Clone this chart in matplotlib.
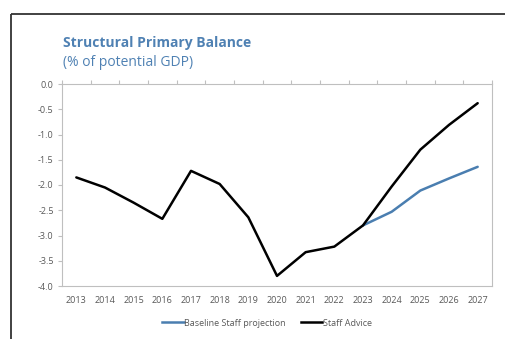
import matplotlib
matplotlib.use("Agg")
import matplotlib.pyplot as plt
from matplotlib.lines import Line2D
import numpy as np

years = [str(y) for y in range(2013, 2028)]
staff_advice = [-1.85, -2.05, -2.35, -2.67, -1.72, -1.98, -2.64, -3.80,
                -3.33, -3.22, -2.80, -2.03, -1.30, -0.81, -0.38]
baseline_years = ["2023", "2024", "2025", "2026", "2027"]
baseline = [-2.80, -2.53, -2.11, -1.87, -1.64]
y_ticks = [0.0, -0.5, -1.0, -1.5, -2.0, -2.5, -3.0, -3.5, -4.0]

plt.rcParams["font.family"] = ["Open Sans", "DejaVu Sans"]

W, H = 506, 339
fig = plt.figure(figsize=(W / 100, H / 100), dpi=100)
fig.patch.set_facecolor("white")

TITLE_BLUE = "#4f81b3"
BLUE = "#4a7eb0"
GRID = "#bfbfbf"
TXT = "#595959"

# outer frame (top and left edges)
fig.add_artist(Line2D([11 / W, 1.0], [1 - 14 / H, 1 - 14 / H], transform=fig.transFigure,
                      color="#333333", lw=1.3, solid_capstyle="butt"))
fig.add_artist(Line2D([11 / W, 11 / W], [0, 1 - 14 / H], transform=fig.transFigure,
                      color="#333333", lw=1.3, solid_capstyle="butt"))

left, right, top, bottom = 62, 492, 84, 286
ax = fig.add_axes([left / W, 1 - bottom / H, (right - left) / W, (bottom - top) / H])

x = np.arange(len(years))
xb = [years.index(y) for y in baseline_years]
ax.plot(xb, baseline, color=BLUE, lw=1.8, solid_capstyle="round", zorder=2)
ax.plot(x, staff_advice, color="black", lw=1.8, solid_capstyle="round", zorder=3)

ax.set_xlim(-0.5, len(years) - 0.5)
ax.set_ylim(-4.0, 0.0)

for s in ax.spines.values():
    s.set_color(GRID)
    s.set_linewidth(0.8)

ax.set_yticks(y_ticks)
ax.set_yticklabels([f"{v:.1f}" if v != 0 else "0.0" for v in y_ticks])
ax.tick_params(axis="y", direction="out", length=3, width=0.8, color=GRID,
               labelsize=6.5, labelcolor=TXT, pad=3)

ax.set_xticks(x)
ax.set_xticklabels(years)
ax.tick_params(axis="x", which="major", length=0, labelsize=6.5, labelcolor=TXT, pad=7)
ax.set_xticks(np.arange(-0.5, len(years) + 0.5), minor=True)
ax.tick_params(axis="x", which="minor", top=True, bottom=False, direction="out",
               length=3, width=0.8, color=GRID)

fig.text(63 / W, 1 - 43 / H, "Structural Primary Balance", color=TITLE_BLUE,
         fontsize=10, fontweight="bold", va="center", ha="left")
fig.text(63 / W, 1 - 63 / H, "(% of potential GDP)", color=TITLE_BLUE,
         fontsize=10, va="center", ha="left")

handles = [Line2D([], [], color=BLUE, lw=1.8), Line2D([], [], color="black", lw=1.8)]
fig.legend(handles, ["Baseline Staff projection", "Staff Advice"],
           loc="center", bbox_to_anchor=(267 / W, 1 - 323 / H), ncol=2, frameon=False,
           fontsize=6.5, labelcolor=TXT, handlelength=2.4, handletextpad=0.1,
           columnspacing=1.6, borderaxespad=0, borderpad=0)

fig.savefig("out.png", dpi=100, facecolor="white")
